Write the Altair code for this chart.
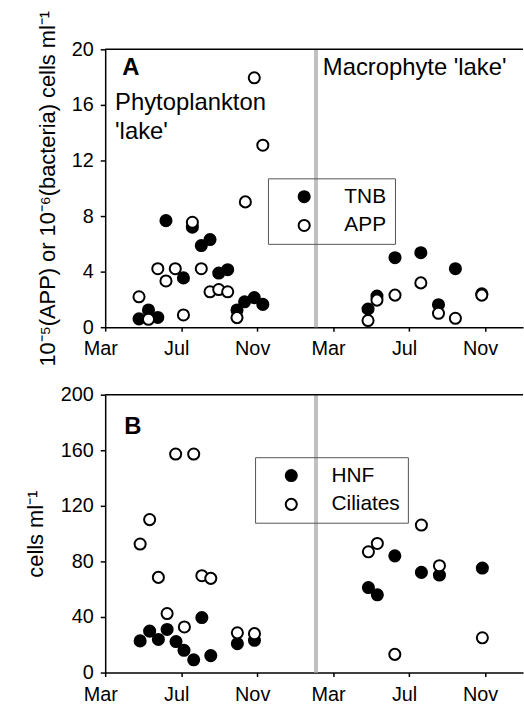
import altair as alt
import pandas as pd

# ---------------- data ----------------
month_labels = ["Mar", "Jul", "Nov", "Mar", "Jul", "Nov"]
label_months = [0, 4, 8, 12, 16, 20]
tick_months = list(range(0, 23))
separator_month = [11.1]

# Panel A: TNB (total bacteria, 10^6 cells/ml) and APP (10^5 cells/ml)
tnb_months = [1.78, 2.28, 2.77, 3.2, 4.12, 4.59, 5.06, 5.52, 5.98, 6.45, 6.94, 7.34, 7.85, 8.3,
              13.84, 14.31, 15.26, 16.62, 17.55, 18.44, 19.83]
tnb_values = [0.6, 1.24, 0.7, 7.67, 3.55, 7.2, 5.88, 6.31, 3.9, 4.14, 1.24, 1.83, 2.13, 1.64,
              1.31, 2.24, 5.0, 5.36, 1.62, 4.21, 2.4]
app_months = [1.78, 2.28, 2.77, 3.2, 3.69, 4.12, 4.59, 5.06, 5.52, 5.98, 6.45, 6.94, 7.38, 7.85, 8.3,
              13.84, 14.31, 15.26, 16.62, 17.55, 18.44, 19.83]
app_values = [2.19, 0.57, 4.21, 3.33, 4.21, 0.88, 7.55, 4.21, 2.55, 2.71, 2.55, 0.69, 9.02, 17.95, 13.1,
              0.48, 1.95, 2.31, 3.19, 1.0, 0.64, 2.31]

# Panel B: HNF and ciliates (cells/ml)
hnf_months = [1.84, 2.34, 2.8, 3.26, 3.73, 4.15, 4.66, 5.09, 5.56, 6.96, 7.86,
              13.86, 14.33, 15.25, 16.65, 17.6, 19.86]
hnf_values = [22.8, 29.8, 23.8, 31.0, 22.3, 16.0, 9.2, 39.6, 12.2, 20.8, 23.2,
              61.2, 56.0, 84.0, 72.1, 70.2, 75.2]
cil_months = [1.84, 2.34, 2.8, 3.26, 3.71, 4.17, 4.66, 5.09, 5.56, 6.96, 7.86,
              13.86, 14.33, 15.25, 16.65, 17.6, 19.86]
cil_values = [92.5, 110.1, 68.5, 42.5, 157.3, 32.8, 157.3, 69.7, 67.8, 28.6, 28.0,
              86.9, 92.9, 13.1, 106.2, 76.9, 25.0]

A_ticks = [0, 4, 8, 12, 16, 20]
B_ticks = [0, 40, 80, 120, 160, 200]

annot_A = pd.DataFrame({
    "month": [0.52, 0.52, 11.46],
    "value": [15.64, 13.57, 18.14],
    "label": ["Phytoplankton", "'lake'", "Macrophyte 'lake'"],
})
letter_A = pd.DataFrame({"month": [0.9], "value": [18.14], "label": ["A"]})
letter_B = pd.DataFrame({"month": [1.0], "value": [172.0], "label": ["B"]})

FONT = "Liberation Sans"

dfA = pd.concat([
    pd.DataFrame({"month": tnb_months, "value": tnb_values, "series": "TNB"}),
    pd.DataFrame({"month": app_months, "value": app_values, "series": "APP"}),
], ignore_index=True)
dfB = pd.concat([
    pd.DataFrame({"month": hnf_months, "value": hnf_values, "series": "HNF"}),
    pd.DataFrame({"month": cil_months, "value": cil_values, "series": "Ciliates"}),
], ignore_index=True)

label_expr = " : ".join(
    f"datum.value == {m} ? '{t}'" for m, t in zip(label_months, month_labels)
) + " : ''"

W, H = 421, 280


def x_enc():
    return alt.X(
        "month:Q",
        scale=alt.Scale(domain=[0, 22], nice=False, zero=False),
        axis=alt.Axis(values=tick_months, labelExpr=label_expr, title=None,
                      tickSize=4, labelOffset=-5, labelFlush=False, labelOverlap=False,
                      labelPadding=8, labelFontSize=20, grid=False),
    )


def panel(df, ymax, yticks, ytitle, domain, legx, legy, letter, annot=None, title_pad=15):
    y = alt.Y("value:Q", scale=alt.Scale(domain=[0, ymax], nice=False, zero=True),
              axis=alt.Axis(values=yticks, title=ytitle, titleFontSize=22,
                            titleFontWeight="normal", titlePadding=title_pad,
                            labelFontSize=20, tickSize=5, labelPadding=7,
                            labelFlush=False, grid=False))
    sep = alt.Chart(pd.DataFrame({"month": separator_month})).mark_rule(
        color="#c0c0c0", strokeWidth=4).encode(x=alt.X("month:Q"))
    top = alt.Chart(pd.DataFrame({"value": [ymax]})).mark_rule(
        color="black", strokeWidth=1.5).encode(y=alt.Y("value:Q"))
    pts = alt.Chart(df).mark_circle(size=125, stroke="black", strokeWidth=2, opacity=1).encode(
        x=x_enc(), y=y,
        fill=alt.Fill("series:N", scale=alt.Scale(domain=domain, range=["black", "white"]),
                      legend=alt.Legend(title=None, orient="none", legendX=legx, legendY=legy,
                                        strokeColor="#555555", padding=8, symbolOffset=18,
                                        labelOffset=30, rowPadding=7, labelFontSize=21,
                                        labelFont=FONT, labelColor="black",
                                        symbolType="circle", symbolSize=125,
                                        symbolStrokeColor="black", symbolStrokeWidth=2,
                                        symbolOpacity=1)),
        order=alt.Order("idx:Q"),
    ).transform_calculate(idx="datum.series == '%s' ? 0 : 1" % domain[0])
    let = alt.Chart(letter).mark_text(font=FONT, fontSize=24, fontWeight="bold", align="left",
                                      baseline="alphabetic", color="black").encode(
        x="month:Q", y="value:Q", text="label:N")
    layers = [sep, top, pts, let]
    if annot is not None:
        layers.append(alt.Chart(annot).mark_text(font=FONT, fontSize=24, align="left",
                                                 baseline="alphabetic", color="black").encode(
            x="month:Q", y="value:Q", text="label:N"))
    return alt.layer(*layers).properties(width=W, height=H)


chartA = panel(dfA, 20, A_ticks, "10⁻⁵(APP) or 10⁻⁶(bacteria) cells ml⁻¹",
               ["TNB", "APP"], 164, 130, letter_A, annot_A, title_pad=12)
chartB = panel(dfB, 200, B_ticks, "cells ml⁻¹",
               ["HNF", "Ciliates"], 151, 63, letter_B, None, title_pad=13)

chart = alt.vconcat(chartA, chartB, spacing=18).resolve_scale(
    fill="independent").resolve_legend(fill="independent").properties(
    padding={"left": 24, "top": 7, "right": 0, "bottom": 0}
).configure_view(strokeWidth=0).configure_axis(
    labelFont=FONT, titleFont=FONT, labelColor="black", titleColor="black",
    domainColor="black", tickColor="black", domainWidth=1.5, tickWidth=1.5
)

chart.save("out.html", embed_options={"renderer": "svg", "actions": False})
